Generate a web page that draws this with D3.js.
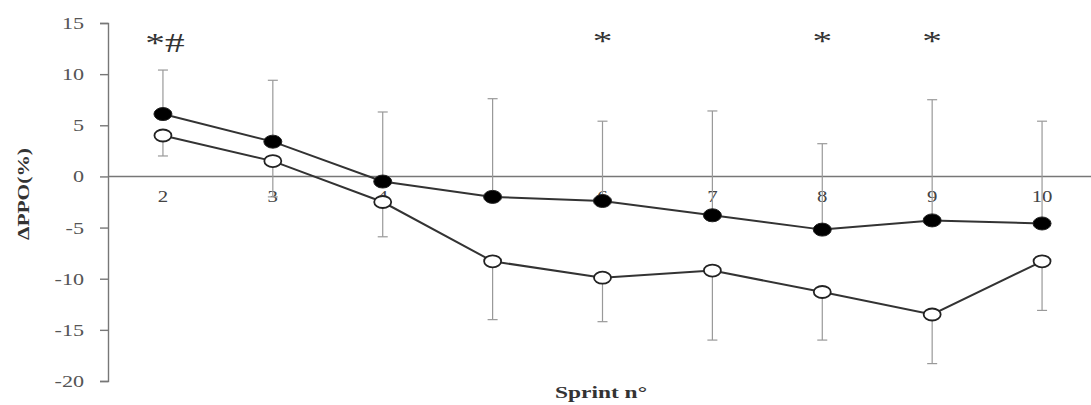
<!DOCTYPE html>
<html>
    <head>
        <meta charset="utf-8">
        <script src="https://d3js.org/d3.v7.min.js"></script>
        <style>
            body { margin: 0; background: #fff; }
            svg text { font-family: "Liberation Serif", "Times New Roman", serif; }
        </style>
    </head>
    <body>
        <svg id="chart" width="1091" height="405"></svg>
        <script>
            // sprint numbers on the x axis
            const sprints = ["2", "3", "4", "5", "6", "7", "8", "9", "10"];
            // filled circles, with their upward SD
            const filledMean = [6.1, 3.4, -0.5, -2.0, -2.4, -3.8, -5.2, -4.3, -4.6];
            const filledUpper = [10.4, 9.4, 6.3, 7.6, 5.4, 6.4, 3.2, 7.5, 5.4];
            // open circles, with their downward SD
            const openMean = [4.0, 1.5, -2.5, -8.3, -9.9, -9.2, -11.3, -13.5, -8.3];
            const openLower = [2.0, -2.0, -5.9, -14.0, -14.2, -16.0, -16.0, -18.3, -13.1];
            const yTicks = [15, 10, 5, 0, -5, -10, -15, -20];
            // significance marks above sprints
            const marks = [["2", "*#"], ["6", "*"], ["8", "*"], ["9", "*"]];

            const svg = d3.select("#chart");
            const x = d3.scaleBand().domain(sprints).range([108, 1097]);
            const y = d3.scaleLinear().domain([-20, 15]).range([381, 23]);
            const cx = d => x(d) + x.bandwidth() / 2;

            // the picture is wider than tall, so stretch text sideways
            function stretch(sel, k) {
                sel.each(function () {
                    let w = this.getComputedTextLength();
                    d3.select(this).attr("textLength", w * k).attr("lengthAdjust", "spacingAndGlyphs");
                });
            }

            // y axis
            const yAxis = svg.append("g")
                .attr("transform", "translate(108,0)")
                .call(d3.axisLeft(y).tickValues(yTicks).tickFormat(d => String(d))
                    .tickSize(8).tickPadding(16));
            yAxis.attr("font-family", null);
            yAxis.selectAll("line, path").attr("stroke", "#777").attr("stroke-width", 1.4);
            yAxis.selectAll("text").attr("font-size", 17).attr("fill", "#555").call(stretch, 1.3);

            // zero line
            svg.append("line")
                .attr("x1", 108).attr("x2", 1091)
                .attr("y1", y(0)).attr("y2", y(0))
                .attr("stroke", "#777").attr("stroke-width", 1.4);

            // sprint labels under the zero line
            svg.append("g").selectAll("text").data(sprints).join("text")
                .attr("x", d => cx(d)).attr("y", y(0) + 26)
                .attr("text-anchor", "middle")
                .attr("font-size", 16).attr("fill", "#444")
                .text(d => d)
                .call(stretch, 1.3);

            // error bars
            function errBars(means, ends) {
                const g = svg.append("g").attr("stroke", "#999").attr("stroke-width", 1.2);
                sprints.forEach((s, i) => {
                    g.append("line").attr("x1", cx(s)).attr("x2", cx(s))
                        .attr("y1", y(means[i])).attr("y2", y(ends[i]));
                    g.append("line").attr("x1", cx(s) - 5).attr("x2", cx(s) + 5)
                        .attr("y1", y(ends[i])).attr("y2", y(ends[i]));
                });
            }
            errBars(filledMean, filledUpper);
            errBars(openMean, openLower);

            // lines
            const line = d3.line().x((d, i) => cx(sprints[i])).y(d => y(d));
            [openMean, filledMean].forEach(vals => {
                svg.append("path").datum(vals)
                    .attr("d", line)
                    .attr("fill", "none")
                    .attr("stroke", "#333").attr("stroke-width", 2);
            });

            // markers (drawn as ellipses, the figure is stretched)
            svg.append("g").selectAll("ellipse").data(openMean).join("ellipse")
                .attr("cx", (d, i) => cx(sprints[i])).attr("cy", d => y(d))
                .attr("rx", 8.5).attr("ry", 6).attr("fill", "#fff")
                .attr("stroke", "#222").attr("stroke-width", 1.8);
            svg.append("g").selectAll("ellipse").data(filledMean).join("ellipse")
                .attr("cx", (d, i) => cx(sprints[i])).attr("cy", d => y(d))
                .attr("rx", 9).attr("ry", 6.5).attr("fill", "#000")
                .attr("stroke", "#222").attr("stroke-width", 1);

            // significance marks
            svg.append("g").selectAll("text").data(marks).join("text")
                .attr("x", d => cx(d[0]) + (d[1].length > 1 ? 2 : 0))
                .attr("y", d => d[1].length > 1 ? 52 : 50)
                .attr("text-anchor", "middle")
                .attr("font-size", 28)
                .attr("fill", "#333")
                .text(d => d[1])
                .call(stretch, 1.4);

            // axis titles
            svg.append("text")
                .attr("transform", "translate(29,194) rotate(-90)")
                .attr("text-anchor", "middle")
                .attr("font-size", 17).attr("font-weight", "bold").attr("fill", "#333")
                .text("ΔPPO(%)")
                .attr("textLength", 92).attr("lengthAdjust", "spacingAndGlyphs");
            svg.append("text")
                .attr("x", 601).attr("y", 398)
                .attr("text-anchor", "middle")
                .attr("font-size", 17).attr("font-weight", "bold").attr("fill", "#333")
                .text("Sprint n°")
                .attr("textLength", 92).attr("lengthAdjust", "spacingAndGlyphs");
        </script>
    </body>
</html>
